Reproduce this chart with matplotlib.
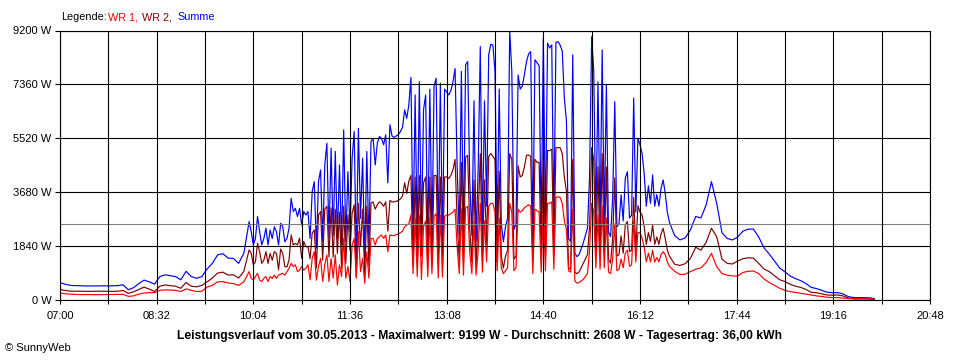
import numpy as np
import matplotlib
matplotlib.use("Agg")
import matplotlib.pyplot as plt
from matplotlib.ticker import FixedLocator, FixedFormatter

plt.rcParams['font.family'] = ['Liberation Sans', 'DejaVu Sans']
plt.rcParams['font.size'] = 8

# ------------------------------------------------------------------ data
date = "30.05.2013"
max_value = 9199          # W
average = 2608            # W
daily_yield = "36,00"     # kWh

x_tick_labels = ["07:00", "08:32", "10:04", "11:36", "13:08",
                 "14:40", "16:12", "17:44", "19:16", "20:48"]
y_ticks = [0, 1840, 3680, 5520, 7360, 9200]
y_tick_labels = ["0 W", "1840 W", "3680 W", "5520 W", "7360 W", "9200 W"]

# sampling grid, minutes after 07:00
t_morning = np.arange(0, 180, 5)
t_midday = np.arange(180, 580, 2)
t_evening = np.arange(580, 780, 5)

summe_morning = [590, 540, 500, 490, 485, 480, 480, 480, 485, 480, 485, 490,
                 520, 350, 420, 560, 680, 620, 540, 800, 860, 830, 800, 690,
                 980, 800, 740, 800, 1060, 1250, 1540, 1580, 1430, 1420, 1250, 1600]
wr1_morning = [230, 215, 200, 190, 185, 185, 185, 180, 185, 185, 190, 190,
               195, 125, 140, 200, 240, 250, 250, 330, 345, 340, 330, 290,
               380, 330, 290, 300, 440, 500, 620, 630, 580, 560, 500, 620]
wr2_morning = [360, 325, 300, 300, 300, 295, 295, 300, 300, 295, 295, 300,
               325, 225, 280, 360, 440, 370, 290, 470, 515, 490, 470, 400,
               600, 470, 450, 500, 620, 750, 920, 950, 850, 860, 750, 980]

summe_midday = [
    2680, 2330, 1880, 2100, 2850, 2330, 1880, 2100, 2450, 1880,
    2390, 2100, 2500, 2330, 1880, 2620, 2500, 1990, 2100, 2450,
    3470, 3020, 3130, 2850, 3130, 2560, 3020, 2900, 3020, 2100,
    3700, 4040, 1770, 4040, 4440, 1990, 4610, 5350, 2100, 5180,
    2200, 5070, 2100, 4610, 1880, 5810, 1990, 4380, 2330, 4840,
    5750, 1420, 5860, 2790, 4840, 1420, 5070, 1880, 5410, 5520,
    4610, 5350, 5580, 5520, 5300, 5640, 4000, 5980,
    5600, 5550, 5600, 5650, 5750, 5900, 6490, 6200, 6660, 7600,
    2100, 7000, 2000, 7450, 2200, 6500, 7000, 1900, 7200, 2100,
    7300, 7570, 2000, 7400, 1950, 7200, 7100, 7000, 7150, 7450,
    7900, 4500, 2200, 7800, 2100, 8030, 8140, 4000, 2200, 6800,
    2000, 4500, 8650, 2300, 6800, 3200, 8370, 8730, 8700, 7800,
    2300, 7200, 2600, 1990, 2500, 2800, 9199, 7800, 2400, 2600,
    7680, 7200, 7300, 7700, 8140, 8400, 8480, 2200, 8200, 8100,
    8000, 2300, 8940,
    2500, 8770, 8600, 8710, 2600, 8800, 8820, 8700, 8500, 6900,
    6100, 2100, 2000, 8370, 1600, 1480, 1550, 1750, 1950, 2200,
    2450, 4200, 8990, 7800, 2600, 7450, 2500, 8540, 2600, 7340,
    2330, 2160, 3500, 6770, 2500, 2600, 3590, 2700, 4160, 4380,
    2800, 2900, 6890, 3000, 5520, 5300, 5000, 4300, 3200, 3900,
    3300, 4270, 3200, 3600, 3200, 3800, 4100, 3650, 3000]
wr1_midday = [
    970, 740, 680, 800, 910, 680, 630, 740, 800, 630,
    800, 740, 850, 740, 850, 880, 910, 850, 970, 1080,
    1250, 1140, 1200, 970, 1020, 1140, 1020, 1080, 1200, 690,
    1420, 1650, 680, 1140, 1420, 630, 1200, 1540, 630, 1420,
    740, 1540, 510, 1200, 800, 2100, 740, 1140, 630, 1880,
    2100, 740, 2330, 970, 1420, 570, 1650, 740, 2100, 2100,
    1880, 2100, 2160, 2220, 2100, 2220, 1650, 2220,
    2200, 2200, 2230, 2250, 2300, 2350, 2500, 2560, 2600, 2900,
    900, 2800, 800, 2900, 700, 2500, 2700, 800, 2800, 900,
    2850, 2950, 750, 2900, 780, 2850, 2900, 2900, 2950, 3000,
    3100, 1800, 900, 3100, 850, 3150, 3200, 1600, 900, 2700,
    850, 1700, 3300, 950, 2700, 1300, 3200, 3300, 3300, 3000,
    1000, 2800, 1100, 900, 1000, 1100, 3300, 3000, 1000, 1100,
    3100, 3000, 3050, 3150, 3200, 3250, 3200, 900, 3100, 3050,
    3000, 950, 3200,
    1000, 3300, 3300, 3350, 1050, 3500, 3530, 3500, 3300, 2700,
    2400, 1000, 950, 3100, 650, 580, 590, 650, 700, 800,
    900, 1700, 3300, 3000, 1100, 2900, 1050, 3200, 1100, 2800,
    950, 900, 1400, 2600, 1000, 1050, 1400, 1100, 1600, 1700,
    1150, 1200, 2700, 1300, 2300, 2300, 2100, 1800, 1300, 1600,
    1300, 1700, 1300, 1450, 1300, 1550, 1650, 1550, 1300]
wr2_midday = [
    1710, 1590, 1200, 1300, 1940, 1650, 1250, 1360, 1650, 1250,
    1590, 1360, 1650, 1590, 1030, 1740, 1590, 1140, 1130, 1370,
    2220, 1880, 1930, 1880, 2110, 1420, 2000, 1820, 1820, 1410,
    2280, 2390, 1090, 2900, 3020, 1360, 3100, 3200, 1470, 3150,
    1460, 3100, 1590, 3000, 1080, 3200, 1250, 2900, 1700, 2960,
    3250, 800, 3300, 1820, 3100, 850, 3200, 1140, 3310, 3350,
    3100, 3250, 3350, 3300, 3200, 3350, 2350, 3400,
    3350, 3350, 3370, 3400, 3450, 3550, 4000, 3640, 4060, 4250,
    1200, 4200, 1200, 4250, 1500, 4000, 4200, 1100, 4200, 1200,
    4250, 4250, 1250, 4200, 1170, 4200, 4200, 4150, 4250, 4450,
    4800, 2700, 1300, 4700, 1250, 4880, 4940, 2400, 1300, 4100,
    1150, 2800, 5000, 1350, 4100, 1900, 4900, 5000, 4900, 4800,
    1300, 4400, 1500, 1090, 1500, 1700, 5000, 4800, 1400, 1500,
    4580, 4200, 4250, 4550, 4940, 4950, 4900, 1300, 4800, 4700,
    4700, 1350, 5000,
    1500, 5100, 5100, 5150, 1550, 5200, 5200, 5200, 5000, 4200,
    3700, 1100, 1050, 4800, 950, 900, 960, 1100, 1250, 1400,
    1550, 2500, 5200, 4800, 1500, 4550, 1450, 5000, 1500, 4540,
    1380, 1260, 2100, 4170, 1500, 1550, 2190, 1600, 2560, 2680,
    1650, 1700, 3500, 1700, 3220, 3000, 2900, 2500, 1900, 2300,
    2000, 2570, 1900, 2150, 1900, 2250, 2450, 2100, 1700]

summe_evening = [2650, 2200, 2050, 2120, 2390, 2850, 2800, 3250, 4040, 3300,
                 2300, 2100, 2050, 2150, 2350, 2420, 2420, 2150, 1780, 1570,
                 1330, 1090, 960, 820, 730, 660, 560, 430, 390, 330,
                 265, 250, 250, 210, 120, 85, 80, 80, 75, 50]
wr1_evening = [1150, 980, 870, 880, 970, 1050, 1100, 1280, 1590, 1140,
               900, 850, 820, 820, 940, 980, 990, 900, 720, 600,
               500, 400, 330, 285, 260, 230, 200, 170, 140, 120,
               95, 85, 80, 68, 50, 45, 45, 40, 40, 35]
wr2_evening = [1500, 1220, 1180, 1240, 1420, 1800, 1700, 1970, 2450, 2160,
               1400, 1250, 1230, 1330, 1410, 1440, 1430, 1250, 1060, 970,
               830, 690, 630, 535, 470, 430, 360, 260, 250, 210,
               170, 165, 170, 142, 70, 40, 35, 40, 35, 15]

# ------------------------------------------------------------------ assemble
def to_min(s):
    h, m = s.split(":")
    return int(h) * 60 + int(m)

t0 = to_min(x_tick_labels[0])
minutes = t0 + np.concatenate([t_morning, t_midday, t_evening])
summe = np.array(summe_morning + summe_midday + summe_evening, dtype=float)
wr1 = np.array(wr1_morning + wr1_midday + wr1_evening, dtype=float)
wr2 = np.array(wr2_morning + wr2_midday + wr2_evening, dtype=float)

RED = "#FF0000"
DARKRED = "#800000"
BLUE = "#0000FF"

W, H = 960, 360
fig = plt.figure(figsize=(W / 100, H / 100), dpi=100)
ax = fig.add_axes([60 / W, 60 / H, 870 / W, 269.5 / H])

ax.plot(minutes, summe, color=BLUE, lw=0.85, zorder=2.0)
ax.plot(minutes, wr2, color=DARKRED, lw=0.85, zorder=2.1)
ax.plot(minutes, wr1, color=RED, lw=0.85, zorder=2.2)
ax.axhline(average, color="#808080", lw=0.8, zorder=2.3)

x_major = [to_min(s) for s in x_tick_labels]
x_minor = [(a + b) / 2 for a, b in zip(x_major[:-1], x_major[1:])]
ax.set_xlim(x_major[0], x_major[-1])
ax.set_ylim(y_ticks[0], y_ticks[-1])
ax.xaxis.set_major_locator(FixedLocator(x_major))
ax.xaxis.set_major_formatter(FixedFormatter(x_tick_labels))
ax.xaxis.set_minor_locator(FixedLocator(x_minor))
ax.yaxis.set_major_locator(FixedLocator(y_ticks))
ax.yaxis.set_major_formatter(FixedFormatter(y_tick_labels))

ax.set_axisbelow(False)
ax.grid(True, which="both", axis="x", color="black", lw=0.8)
ax.grid(True, which="major", axis="y", color="black", lw=0.8)
ax.tick_params(axis="y", direction="out", length=3.6, width=0.8, pad=2.5,
               labelsize=8, colors="black")
ax.tick_params(axis="x", which="both", direction="out", length=3, width=0.8,
               pad=5, labelsize=8, colors="black")
for sp in ax.spines.values():
    sp.set_color("black")
    sp.set_linewidth(0.8)

# legend line at top
leg_y = 1 - 20.5 / H
leg_fs = 7.8
fig.text(61 / W, leg_y, "Legende:", color="black", va="baseline", fontsize=leg_fs)
fig.text(108.5 / W, leg_y, "WR 1,", color=RED, va="baseline", fontsize=leg_fs)
fig.text(142.5 / W, leg_y, "WR 2,", color=DARKRED, va="baseline", fontsize=leg_fs)
fig.text(177.5 / W, leg_y, "Summe", color=BLUE, va="baseline", fontsize=leg_fs)

title = (f"Leistungsverlauf vom {date} - Maximalwert: {max_value} W - "
         f"Durchschnitt: {average} W - Tagesertrag: {daily_yield} kWh")
fig.text(479.7 / W, 1 - 339.5 / H, title, ha="center", va="baseline",
         fontsize=8.7, fontweight="bold")
fig.text(5 / W, 1 - 351 / H, "\u00a9 SunnyWeb", va="baseline", fontsize=8)

fig.savefig("out.png", dpi=100)
